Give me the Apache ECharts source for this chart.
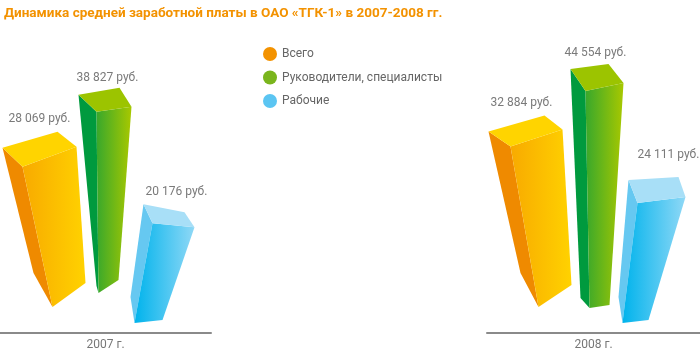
<!DOCTYPE html>
<html><head><meta charset="utf-8">
<script src="https://cdn.jsdelivr.net/npm/echarts@6/dist/echarts.min.js"></script>
<style>html,body{margin:0;padding:0;background:#fff}#c{width:700px;height:351px}</style>
</head><body><div id="c"></div>
<script>
const years = ['2007 г.', '2008 г.'];
const seriesNames = ['Всего', 'Руководители, специалисты', 'Рабочие'];
const total = [28069, 32884];
const managers = [38827, 44554];
const workers = [20176, 24111];
const titleText = 'Динамика средней заработной платы в ОАО «ТГК-1» в 2007-2008 гг.';

const values = [total, managers, workers];
const legendColors = ['#f39200', '#7ab51d', '#5bc5f2'];
const faceColors = [
  {left: '#ef8a00', front: ['#f8aa00', '#ffd200'], top: '#ffd400'},
  {left: '#009a3e', front: ['#38a82c', '#a8c800'], top: '#9cc400'},
  {left: '#66c8f1', front: ['#00b3ec', '#8fd8f6'], top: '#a8dff7'}
];
const geom = [
  [
    {by: -40, top: [[-103,-9],[-48,-25],[-29,-10],[-83,10]], bot: [[-53,14],[-20,-10],[-72,-20]], lab: [-66,-38]},
    {by: -35, top: [[-27,-15],[14,-22],[26,-3],[-9,2]], bot: [[-7,-5],[13,-18],[-9,-12]], lab: [2,-32]},
    {by: -10, top: [[38,-21],[79,-13],[89,2],[47,-2]], bot: [[29,0],[57,-3],[25,-26]], lab: [71,-33]}
  ],
  [
    {by: -35, top: [[-105,-7],[-49,-23],[-31,-9],[-83,8]], bot: [[-55,9],[-22,-13],[-73,-25]], lab: [-72,-36]},
    {by: -30, top: [[-23,-18],[15,-23],[30,-4],[-8,4]], bot: [[-4,5],[16,2],[-13,-5]], lab: [2,-34]},
    {by: -16, top: [[35,-20],[85,-23],[92,-3],[44,3]], bot: [[29,6],[55,3],[25,-20]], lab: [75,-45]}
  ]
];

function fmt(v) {
  return String(v).replace(/\B(?=(\d{3})+(?!\d))/g, ' ') + ' руб.';
}

function makeRender(g, s) {
  return function (params, api) {
    const v = api.value(1);
    const base = api.coord([api.value(0), 0]);
    const h = api.size([0, v])[1];
    const G = geom[g][s];
    const cx = base[0];
    const byy = base[1] + G.by;
    const ty = byy - h;
    const T = G.top.map(p => [cx + p[0], ty + p[1]]);
    const B = G.bot.map(p => [cx + p[0], byy + p[1]]);
    const c = faceColors[s];
    return {
      type: 'group',
      children: [
        {type: 'polygon', shape: {points: [T[0], T[3], B[0], B[2]]}, style: {fill: c.left}},
        {type: 'polygon', shape: {points: [T[3], T[2], B[1], B[0]]},
          style: {fill: new echarts.graphic.LinearGradient(0, 0, 1, 0, [{offset: 0, color: c.front[0]}, {offset: 1, color: c.front[1]}])}},
        {type: 'polygon', shape: {points: [T[0], T[1], T[2], T[3]]}, style: {fill: c.top}},
        {type: 'text', style: {text: fmt(v), x: cx + G.lab[0], y: ty + G.lab[1], align: 'center', verticalAlign: 'middle',
          fill: '#7a7a7a', font: '12px Roboto'}}
      ]
    };
  };
}

const series = [];
for (let g = 0; g < 2; g++) {
  for (let s = 0; s < 3; s++) {
    series.push({
      type: 'custom', name: seriesNames[s], xAxisIndex: g, yAxisIndex: g,
      itemStyle: {color: legendColors[s]},
      renderItem: makeRender(g, s),
      data: [[0, values[s][g]]],
      encode: {x: 0, y: 1}
    });
  }
}

const xAx = (i) => ({
  type: 'category', gridIndex: i, data: [years[i]],
  axisLine: {lineStyle: {color: '#8a8a8a', width: 2}},
  axisTick: {show: false},
  axisLabel: {color: '#777', fontSize: 12, fontFamily: 'Roboto', margin: 6}
});
const yAx = (i) => ({type: 'value', gridIndex: i, min: 0, max: 60000, show: false});

const chart = echarts.init(document.getElementById('c'));
chart.setOption({
  animation: false,
  title: {text: titleText, left: -1, top: 2,
    textStyle: {color: '#f39200', fontSize: 13.5, fontWeight: 'bold', fontFamily: 'Roboto'}},
  legend: {orient: 'vertical', left: 258, top: 42, itemWidth: 14, itemHeight: 14, itemGap: 9.5,
    icon: 'circle', data: seriesNames,
    textStyle: {color: '#666', fontSize: 12, fontFamily: 'Roboto'}},
  grid: [
    {left: 0, width: 211, top: 42, bottom: 18},
    {left: 487, right: 0, top: 42, bottom: 18}
  ],
  xAxis: [xAx(0), xAx(1)],
  yAxis: [yAx(0), yAx(1)],
  series: series
});
</script></body></html>
